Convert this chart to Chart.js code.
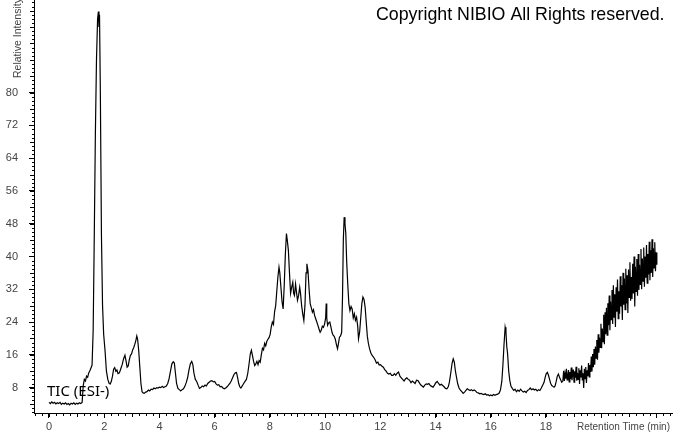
<!DOCTYPE html>
<html>
<head>
<meta charset="utf-8">
<script src="https://cdn.jsdelivr.net/npm/chart.js@4/dist/chart.umd.min.js"></script>
<style>
  html, body { margin: 0; padding: 0; background: #fff; }
</style>
</head>
<body>
<canvas id="tic" width="673" height="433"></canvas>
<script>
// === DATA (retention time min, relative intensity) ===
const frontRegion = [
  [0.00,4.4],[0.05,4.1],[0.10,4.5],[0.15,4.2],[0.20,4.4],[0.25,4.0],[0.30,4.3],[0.35,4.1],
  [0.40,4.4],[0.45,3.9],[0.50,4.2],[0.55,4.0],[0.60,4.3],[0.65,3.9],[0.70,4.1],[0.75,3.8],
  [0.80,4.2],[0.85,4.0],[0.90,4.3],[0.95,3.9],[1.00,4.2],[1.05,4.0],[1.10,4.3],[1.15,4.1],
  [1.20,4.4],[1.24,8.5],[1.28,10.0],[1.32,9.6],[1.36,10.8],[1.40,10.5],[1.44,11.6],[1.48,12.1],
  [1.52,12.8],[1.56,13.5],[1.60,22],[1.64,45],[1.68,70],[1.72,88],[1.76,98],[1.79,99.8],
  [1.81,96],[1.83,99],[1.86,80],[1.90,45],[1.94,28],[1.98,21],[2.03,17],[2.08,12],
  [2.13,10],[2.18,9.0],[2.22,8.9],[2.26,9.6],[2.30,10.8],[2.34,12.5],[2.38,12.9],[2.42,12.0],
  [2.46,12.3],[2.50,11.4],[2.55,11.6],[2.60,12.6],[2.65,13.6],[2.70,15.0],[2.75,15.9],[2.79,14.5],
  [2.83,13.0],[2.87,13.3],[2.91,14.8],[2.95,15.9],[2.99,16.2],[3.03,17.2],[3.07,17.8],[3.11,18.6],
  [3.15,19.6],[3.18,20.6],[3.21,19.8],[3.25,17.0],[3.29,13.0],[3.33,9.0],[3.37,7.0],[3.41,6.7],
  [3.45,6.6]
];
const midRegion = [
  [3.50,6.9],[3.55,7.0],[3.60,7.4],[3.65,7.2],[3.70,7.6],[3.75,7.5],[3.80,7.9],[3.85,7.7],
  [3.90,8.0],[3.95,7.9],[4.00,8.1],[4.05,8.0],[4.10,8.3],[4.15,8.0],[4.20,8.2],[4.25,8.4],
  [4.30,9.0],[4.35,10.2],[4.40,12.0],[4.45,13.8],[4.50,14.3],[4.54,14.0],[4.58,11.5],[4.62,9.0],
  [4.67,7.8],[4.72,7.5],[4.77,7.2],[4.82,7.5],[4.87,7.7],[4.92,8.3],[4.97,9.2],[5.02,10.4],
  [5.07,12.3],[5.12,13.8],[5.17,14.4],[5.21,13.6],[5.25,11.5],[5.30,10.0],[5.35,9.5],[5.40,8.6],
  [5.45,7.8],[5.50,8.0],[5.55,8.4],[5.60,8.2],[5.65,8.6],[5.70,8.4],[5.75,9.0],[5.80,9.3],
  [5.85,9.6],[5.90,9.7],[5.95,9.4],[6.00,9.5],[6.05,8.9],[6.10,8.6],[6.15,8.7],[6.20,8.2],
  [6.25,8.3],[6.30,7.9],[6.35,7.7],[6.40,7.9],[6.45,8.2],[6.50,8.6],[6.55,9.0],[6.60,9.6],
  [6.65,10.4],[6.70,11.2],[6.75,11.6],[6.79,11.7],[6.83,10.5],[6.87,9.0],[6.91,8.2],[6.95,7.9],
  [7.00,8.4],[7.05,9.0],[7.10,9.5],[7.15,10.0]
];
const clusterRegion = [
  [7.20,11.5],[7.25,14.0],[7.29,16.2],[7.33,17.1],[7.37,15.8],[7.41,14.4],[7.45,13.4],[7.49,13.8],
  [7.53,14.4],[7.57,13.6],[7.61,14.6],[7.65,14.2],[7.69,16.0],[7.73,17.6],[7.77,17.2],[7.81,18.8],
  [7.85,18.2],[7.89,19.3],[7.93,19.8],[7.97,20.2],[8.01,21.0],[8.05,22.8],[8.09,24.0],[8.13,23.4],
  [8.17,26.5],[8.21,28.0],[8.25,31.5],[8.29,35.0],[8.33,37.4],[8.36,36.0],[8.40,32.5],[8.44,29.0],
  [8.48,27.2],[8.52,33.0],[8.56,40.5],[8.60,45.6],[8.63,44.0],[8.67,41.5],[8.71,36.0],[8.75,31.0],
  [8.79,32.5],[8.83,33.7],[8.86,31.0],[8.89,30.5],[8.93,33.3],[8.96,31.5],[9.00,29.3],[9.04,30.5],
  [9.08,32.5],[9.11,31.0],[9.15,28.0],[9.19,26.0],[9.23,24.4],[9.27,28.0],[9.31,36.0],[9.34,38.2],
  [9.38,36.5],[9.42,32.0],[9.46,28.5],[9.50,27.5],[9.54,26.4],[9.58,27.0],[9.62,25.6],[9.66,24.8],
  [9.70,24.0],[9.74,23.2],[9.78,22.3],[9.82,21.5],[9.86,22.0],[9.90,23.0],[9.94,22.7],[9.98,23.5],
  [10.02,25.0],[10.04,28.5],[10.06,25.0],[10.09,23.2],[10.13,23.8],[10.17,24.0],[10.21,22.8],[10.25,21.5],
  [10.29,20.8],[10.33,20.5],[10.37,19.8],[10.41,18.5],[10.45,17.5],[10.48,18.6],[10.52,20.3],[10.56,20.6],
  [10.60,21.5],[10.63,30.0],[10.66,44.0],[10.69,49.6],[10.72,48.0],[10.75,45.6],[10.78,39.0],[10.82,33.3],
  [10.86,28.5],[10.90,26.8],[10.94,27.8],[10.98,27.2],[11.02,25.0],[11.06,26.0],[11.10,24.4],[11.14,25.2],
  [11.18,23.0],[11.21,19.9],[11.25,21.5],[11.29,25.0],[11.33,28.5],[11.37,30.1],[11.41,29.5],[11.45,27.6],
  [11.49,24.0],[11.53,20.5],[11.57,18.7],[11.61,17.5],[11.66,16.4],[11.71,15.8],[11.76,15.4],[11.81,14.8],
  [11.86,14.0],[11.91,14.2],[11.96,13.5]
];
const lateRegion = [
  [12.01,13.6],[12.06,13.2],[12.11,13.0],[12.16,12.4],[12.21,12.0],[12.26,11.5],[12.31,11.3],[12.36,11.5],
  [12.41,11.0],[12.46,11.0],[12.51,11.4],[12.56,11.0],[12.61,11.5],[12.66,11.8],[12.71,10.8],[12.76,10.4],
  [12.81,10.0],[12.86,9.6],[12.91,10.1],[12.96,10.4],[13.01,10.0],[13.06,9.8],[13.11,9.2],[13.16,9.6],
  [13.21,9.3],[13.26,9.0],[13.31,9.8],[13.36,9.7],[13.41,9.2],[13.46,8.7],[13.51,8.4],[13.56,8.1],
  [13.61,8.6],[13.66,8.9],[13.71,8.8],[13.76,9.0],[13.81,8.5],[13.86,8.3],[13.91,8.1],[13.96,8.6],
  [14.01,9.2],[14.06,9.5],[14.11,9.0],[14.16,8.6],[14.21,8.8],[14.26,8.5],[14.31,8.2],[14.36,7.8],
  [14.41,7.7],[14.46,8.2],[14.50,9.3],[14.55,11.5],[14.60,14.0],[14.64,15.0],[14.68,14.2],[14.72,12.0],
  [14.76,10.5],[14.80,9.0],[14.85,7.9],[14.90,7.4],[14.95,7.0],[15.00,6.6],[15.05,6.9],[15.10,7.3],
  [15.15,7.7],[15.20,7.5],[15.25,7.3],[15.30,7.5],[15.35,7.2],[15.40,7.4],[15.45,7.2],[15.50,6.8],
  [15.55,6.7],[15.60,6.5],[15.65,6.6],[15.70,6.4],[15.75,6.3],[15.80,6.5],[15.85,6.2],[15.90,6.3],
  [15.95,6.0],[16.00,6.2],[16.05,6.0],[16.10,6.3],[16.15,6.1],[16.20,6.3],[16.25,6.4],[16.30,6.6],
  [16.35,7.4],[16.40,9.5],[16.44,13.5],[16.48,18.5],[16.52,22.7],[16.55,21.5],[16.58,18.0],[16.61,16.2],
  [16.65,12.0],[16.69,9.7],[16.73,8.4],[16.78,7.8],[16.83,7.3],[16.88,7.6],[16.93,7.0],[16.98,7.4],
  [17.03,7.1],[17.08,7.6],[17.13,7.2],[17.18,6.9],[17.23,7.1],[17.28,6.8],[17.33,7.3],[17.38,7.5],
  [17.43,7.9],[17.48,7.5],[17.53,7.7],[17.58,7.4],[17.63,7.6],[17.68,7.2],[17.73,7.5],[17.78,7.3],
  [17.83,7.9],[17.88,8.6],[17.93,9.3],[17.97,10.5],[18.01,11.4],[18.05,11.7],[18.09,11.0],[18.13,10.0],
  [18.17,9.0],[18.21,8.5],[18.25,8.3],[18.29,8.1],[18.33,8.4],[18.37,9.5],[18.41,10.8],[18.45,11.3],
  [18.49,10.5],[18.53,9.9],[18.57,9.3],[18.61,9.6]
];
// noisy gradient tail, sampled every tailStep minutes from tailStart
const tailStart = 18.64;
const tailStep = 0.025;
const tailValues = [
  12.1, 9.6, 11.4, 10.2, 12.6, 9.9, 11.0, 12.3, 9.4,
  11.8, 10.1, 12.9, 9.8, 11.2, 12.4, 9.3, 12.0, 10.4,
  13.1, 9.7, 11.6, 10.0, 12.7, 8.9, 12.2, 10.5, 13.4,
  9.9, 11.5, 7.9, 12.6, 10.2, 13.0, 9.1, 12.2, 10.8,
  14.0, 10.6, 13.5, 11.8, 15.6, 11.9, 16.2, 13.0, 17.4,
  13.6, 18.0, 15.2, 19.6, 14.8, 21.0, 16.5, 20.2, 17.8,
  23.6, 17.6, 22.4, 19.2, 25.8, 18.6, 26.4, 21.0, 27.5,
  20.8, 28.6, 23.2, 30.5, 22.0, 29.0, 24.6, 31.8, 23.5,
  33.0, 25.2, 30.8, 22.8, 32.5, 26.5, 34.4, 24.8, 31.5,
  26.0, 35.2, 27.8, 33.0, 24.5, 36.0, 28.2, 34.6, 27.0,
  37.0, 28.5, 35.4, 26.2, 36.8, 30.0, 38.6, 29.2, 35.0,
  29.6, 38.2, 31.0, 40.0, 27.8, 37.5, 31.5, 39.4, 30.4,
  40.6, 31.8, 38.0, 33.2, 41.8, 32.0, 39.5, 34.0, 42.2,
  32.6, 40.0, 34.8, 42.8, 33.5, 40.6, 35.6, 43.6, 34.2,
  41.5, 36.0, 44.2, 35.0, 42.0, 37.2, 43.5, 36.4, 41.0, 38.0
];
const xTicks = [0, 2, 4, 6, 8, 10, 12, 14, 16, 18, 20, 22];
const yTicks = [8, 16, 24, 32, 40, 48, 56, 64, 72, 80];

// === BUILD SERIES ===
const points = [...frontRegion, ...midRegion, ...clusterRegion, ...lateRegion]
  .map(([t, v]) => ({ x: t, y: v }));
tailValues.forEach((v, i) => points.push({ x: +(tailStart + i * tailStep).toFixed(3), y: v }));

// === AXIS DECOR (minor ticks + texts) ===
const decor = {
  id: 'decor',
  afterDraw(chart) {
    const { ctx, scales: { x, y } } = chart;
    ctx.save();
    ctx.strokeStyle = '#000';
    ctx.lineWidth = 1;
    ctx.beginPath();
    for (let t = -0.5; t <= 22.5; t += 0.25) {
      const px = Math.round(x.getPixelForValue(t)) + 0.5;
      const len = Math.abs(t % 1) < 0.01 ? 4 : 3;
      ctx.moveTo(px, x.top);
      ctx.lineTo(px, x.top + len);
    }
    for (let v = 2; v <= 102; v += 1) {
      const py = Math.round(y.getPixelForValue(v)) + 0.5;
      const len = v % 4 === 0 ? 4 : 2;
      ctx.moveTo(y.right, py);
      ctx.lineTo(y.right - len, py);
    }
    ctx.stroke();

    ctx.fillStyle = '#444';
    ctx.font = '10px "Liberation Sans", Arial, sans-serif';
    ctx.textBaseline = 'middle';
    ctx.textAlign = 'left';
    ctx.fillText('Retention Time (min)', 577, 427);

    ctx.save();
    ctx.font = '10.5px "Liberation Sans", Arial, sans-serif';
    ctx.translate(18, 78);
    ctx.rotate(-Math.PI / 2);
    ctx.fillText('Relative Intensity', 0, 0);
    ctx.restore();

    ctx.fillStyle = '#000';
    ctx.font = '15px "Noto Sans", "Open Sans", sans-serif';
    ctx.fillText('TIC (ESI-)', 47, 392);

    ctx.font = '17.8px "Liberation Sans", Arial, sans-serif';
    ctx.fillText('Copyright NIBIO All Rights reserved.', 376, 15);
    ctx.restore();
  }
};

// === CHART ===
new Chart(document.getElementById('tic'), {
  type: 'line',
  data: {
    datasets: [{
      data: points,
      borderColor: '#000',
      borderWidth: 1.2,
      pointRadius: 0,
      tension: 0,
      fill: false
    }]
  },
  options: {
    responsive: false,
    animation: false,
    devicePixelRatio: 1,
    layout: { padding: 0 },
    plugins: { legend: { display: false }, tooltip: { enabled: false } },
    scales: {
      x: {
        type: 'linear',
        min: -0.543,
        max: 22.6,
        afterBuildTicks: s => { s.ticks = xTicks.map(v => ({ value: v })); },
        afterFit: s => { s.height = 20; s.paddingLeft = 0; s.paddingRight = 0; },
        grid: { display: true, drawOnChartArea: false, drawTicks: true, tickLength: 5, color: '#000' },
        border: { display: true, color: '#000', width: 1 },
        ticks: {
          autoSkip: false,
          maxRotation: 0,
          padding: 2,
          color: '#444',
          font: { size: 11, family: '"Liberation Sans", Arial, sans-serif' },
          callback: v => (v <= 18 ? String(v) : '')
        }
      },
      y: {
        min: 1.8,
        max: 102.6,
        afterBuildTicks: s => { s.ticks = yTicks.map(v => ({ value: v })); },
        afterFit: s => { s.width = 34; s.paddingTop = 0; s.paddingBottom = 0; },
        grid: { display: true, drawOnChartArea: false, drawTicks: true, tickLength: 5, color: '#000' },
        border: { display: true, color: '#000', width: 1 },
        ticks: {
          padding: 11,
          color: '#444',
          font: { size: 11, family: '"Liberation Sans", Arial, sans-serif' }
        }
      }
    }
  },
  plugins: [decor]
});
</script>
</body>
</html>
